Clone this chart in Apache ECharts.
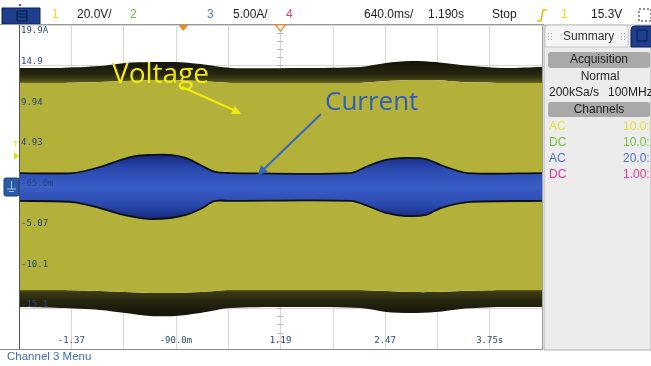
<!DOCTYPE html>
<html>
<head>
<meta charset="utf-8">
<script src="https://cdn.jsdelivr.net/npm/echarts@6/dist/echarts.min.js"></script>
<style>
  html, body { margin: 0; padding: 0; background: #fff; }
  #chart { width: 651px; height: 366px; }
</style>
</head>
<body>
<div id="chart"></div>
<script>
const voltsPerDiv = 20
const ampsPerDiv = 5
const ampsOffset = -0.065
const xMin = -2.01
const xMax = 4.39
const xStep = 0.64
const yMin = -4
const yMax = 4

const triggerTime = 0
const delayTime = 1.19
const triggerLevel = 15.3

const xTickLabels = ['', '-1.37', '', '-90.0m', '', '1.19', '', '2.47', '', '3.75s', '']
const yTickLabels = ['', '-15.1', '-10.1', '-5.07', '-65.0m', '4.93', '9.94', '14.9', '19.9A']

// channel 1 voltage envelope (V)
const vTime = [-2.01, -1.51, -1.02, -0.71, -0.40, -0.10, 0.21, 0.58, 1.44, 2.17, 2.48, 2.78, 3.09, 3.40, 3.89, 4.39]
const vOuterTop = [58.8, 58.8, 59.7, 61.2, 61.7, 61.7, 60.7, 58.8, 58.8, 59.3, 61.2, 62.2, 61.7, 60.2, 58.8, 59.3]
const vInnerTop = [51.4, 51.4, 51.9, 52.3, 52.8, 52.8, 52.3, 51.4, 51.4, 51.4, 52.3, 52.8, 52.8, 51.9, 51.4, 51.4]
const vInnerBottom = [-50.9, -50.9, -51.4, -51.9, -52.3, -52.3, -51.9, -50.9, -50.9, -50.9, -51.4, -51.9, -51.9, -51.4, -50.9, -50.9]
const vOuterBottom = [-59.3, -59.8, -60.7, -62.2, -63.7, -63.7, -62.2, -59.8, -59.3, -59.8, -61.7, -62.2, -61.7, -60.2, -59.3, -59.3]

// channel 3 current envelope (A)
const iTime = [-2.01, -1.35, -1.02, -0.77, -0.59, -0.40, -0.16, 0.03, 0.21, 0.39, 0.58, 2.05, 2.26, 2.48, 2.72, 2.97, 3.15, 3.48, 4.39]
const iUpper = [1.66, 1.66, 2.40, 3.27, 3.76, 3.89, 3.89, 3.52, 2.65, 1.79, 1.66, 1.66, 2.53, 3.27, 3.52, 3.39, 2.65, 1.66, 1.66]
const iLower = [-1.79, -1.92, -2.66, -3.40, -3.77, -4.02, -3.89, -3.52, -2.78, -1.79, -1.79, -1.79, -2.41, -3.27, -3.65, -3.52, -2.66, -1.92, -1.79]

const vDiv = (v) => v / voltsPerDiv
const iDiv = (a) => (a - ampsOffset) / ampsPerDiv

const chart = echarts.init(document.getElementById('chart'))

const labelColor = '#27477e'
const gridColor = '#d6d6d6'
const monoFont = 'DejaVu Sans Mono'
const uiFont = 'Liberation Sans'
const smooth = 0.3

const grad = (stops) => new echarts.graphic.LinearGradient(0, 0, 0, 1,
  stops.map(([offset, color]) => ({ offset, color })))

// envelope in screen points, through the axis scales; the ends are run out
// past the plot edge (clipped away) so smoothing doesn't round the corners
const edge = (api, xs, ys, conv) => {
  const pts = xs.map((x, i) => api.coord([x, conv(ys[i])]))
  const first = pts[0]
  const last = pts[pts.length - 1]
  return [[first[0] - 40, first[1]], ...pts, [last[0] + 40, last[1]]]
}
const bandShape = (api, xs, lo, hi, conv) => ({
  points: [...edge(api, xs, hi, conv), ...edge(api, xs, lo, conv).reverse()],
  smooth,
})

const voltageItem = (params, api) => ({
  type: 'group',
  children: [
    {
      type: 'polygon', shape: bandShape(api, vTime, vOuterBottom, vInnerBottom, vDiv),
      style: { fill: grad([[0, '#8a8828'], [0.12, '#3c3b16'], [0.5, '#23230e'], [1, '#151509']]) },
    },
    {
      type: 'polygon', shape: bandShape(api, vTime, vInnerTop, vOuterTop, vDiv),
      style: { fill: grad([[0, '#141408'], [0.55, '#26250f'], [0.85, '#4a4a1a'], [1, '#8e8c2c']]) },
    },
    {
      type: 'polygon', shape: bandShape(api, vTime, vInnerBottom, vInnerTop, vDiv),
      style: { fill: '#b3b13a' },
    },
  ],
})

const currentItem = (params, api) => ({
  type: 'group',
  children: [
    {
      type: 'polygon', shape: bandShape(api, iTime, iLower, iUpper, iDiv),
      style: { fill: grad([[0, '#16287a'], [0.22, '#2a49ae'], [0.5, '#3a5fc6'], [0.78, '#2a49ae'], [1, '#16287a']]) },
    },
    {
      type: 'polyline', shape: { points: edge(api, iTime, iUpper, iDiv), smooth },
      style: { fill: 'none', stroke: '#0c0f1e', lineWidth: 1.8 },
    },
    {
      type: 'polyline', shape: { points: edge(api, iTime, iLower, iDiv), smooth },
      style: { fill: 'none', stroke: '#0c0f1e', lineWidth: 1.8 },
    },
  ],
})

const option = {
  animation: false,
  backgroundColor: '#fff',
  grid: { left: 19, right: 109, top: 25, bottom: 17, show: false },
  xAxis: [
    {
      type: 'value', min: xMin, max: xMax, interval: xStep, z: 10,
      axisLine: { show: false }, axisTick: { show: false }, splitLine: { show: false },
      axisLabel: {
        inside: true, margin: 4, color: labelColor, fontFamily: monoFont, fontSize: 9,
        formatter: (v) => xTickLabels[Math.round((v - xMin) / xStep)] || '',
      },
    },
    {
      type: 'value', min: xMin, max: xMax, interval: xStep, z: 0,
      axisLine: { show: false }, axisTick: { show: false }, axisLabel: { show: false },
      splitLine: { lineStyle: { color: gridColor } },
    },
  ],
  yAxis: [
    {
      type: 'value', min: yMin, max: yMax, interval: 1, z: 10,
      axisLine: { show: false }, axisTick: { show: false }, splitLine: { show: false },
      axisLabel: {
        inside: true, margin: 2, color: labelColor, fontFamily: monoFont, fontSize: 9,
        formatter: (v) => {
          const idx = Math.round(v - yMin)
          const label = yTickLabels[idx] || ''
          if (!label) return ''
          return idx === yTickLabels.length - 1 ? `{top|${label}}` : `{mid|${label}}`
        },
        rich: {
          top: { padding: [12, 0, 0, 0], color: labelColor, fontFamily: monoFont, fontSize: 9 },
          mid: { padding: [0, 0, 7, 0], color: labelColor, fontFamily: monoFont, fontSize: 9 },
        },
      },
    },
    {
      type: 'value', min: yMin, max: yMax, interval: 1, z: 0,
      axisLine: { show: false }, axisTick: { show: false }, axisLabel: { show: false },
      splitLine: { lineStyle: { color: gridColor } },
    },
    // centre graticule ticks
    {
      type: 'value', min: yMin, max: yMax, interval: 1, z: 0, offset: -262,
      axisLine: { show: false }, axisLabel: { show: false }, splitLine: { show: false },
      axisTick: { show: true, inside: true, length: 3, lineStyle: { color: '#b8b8b8' } },
      minorTick: { show: true, splitNumber: 5, length: 3, lineStyle: { color: '#b8b8b8' } },
    },
    {
      type: 'value', min: yMin, max: yMax, interval: 1, z: 0, offset: -262,
      axisLine: { show: false }, axisLabel: { show: false }, splitLine: { show: false },
      axisTick: { show: true, inside: false, length: 3, lineStyle: { color: '#b8b8b8' } },
      minorTick: { show: true, splitNumber: 5, length: 3, lineStyle: { color: '#b8b8b8' } },
    },
  ],
  series: [
    {
      name: 'Voltage', type: 'custom', coordinateSystem: 'cartesian2d', xAxisIndex: 0, yAxisIndex: 0,
      clip: true, silent: true, z: 2, data: [[xMin, 0]], renderItem: voltageItem,
    },
    {
      name: 'Current', type: 'custom', coordinateSystem: 'cartesian2d', xAxisIndex: 0, yAxisIndex: 0,
      clip: true, silent: true, z: 3, data: [[xMin, 0]], renderItem: currentItem,
    },
  ],
}

chart.setOption(option)

const px = (t, d) => chart.convertToPixel({ xAxisIndex: 0, yAxisIndex: 0 }, [t, d])
const [trigX, plotTop] = px(triggerTime, yMax)
const [delayX] = px(delayTime, yMax)
const [, trigY] = px(xMin, triggerLevel / voltsPerDiv)
const [plotLeft, gndY] = px(xMin, iDiv(ampsOffset))
const [plotRight, plotBottom] = px(xMax, yMin)

const txt = (x, y, text, fill, extra = {}) => ({
  type: 'text', x, y, z: 100,
  style: { text, fill, font: `12px "${uiFont}"`, verticalAlign: 'middle', ...extra },
})
const dots = (x, y) => [0, 1, 2].flatMap((r) => [0, 1].map((c) => ({
  type: 'rect', z: 100, shape: { x: x + c * 3, y: y + r * 3, width: 1, height: 1 }, style: { fill: '#9a9a9a' },
})))

const graphics = [
  // header
  { type: 'rect', z: 90, shape: { x: 0, y: 0, width: 651, height: plotTop }, style: { fill: '#fff' } },
  { type: 'rect', z: 100, shape: { x: 2, y: 8, width: 38, height: 16 }, style: { fill: '#1e3f8e', stroke: '#0b1f55' } },
  { type: 'rect', z: 100, shape: { x: 17, y: 11, width: 10, height: 10 }, style: { fill: 'none', stroke: '#0b1a44' } },
  { type: 'line', z: 100, shape: { x1: 17, y1: 14, x2: 27, y2: 14 }, style: { stroke: '#0b1a44' } },
  { type: 'line', z: 100, shape: { x1: 17, y1: 17, x2: 27, y2: 17 }, style: { stroke: '#0b1a44' } },
  { type: 'rect', z: 100, shape: { x: 19, y: 4, width: 2, height: 2 }, style: { fill: '#e02020' } },
  txt(52, 15, '1', '#e8de1c'),
  txt(77, 15, '20.0V/', '#222'),
  txt(130, 15, '2', '#6cc040'),
  txt(207, 15, '3', '#5a78cc'),
  txt(233, 15, '5.00A/', '#222'),
  txt(286, 15, '4', '#e0407a'),
  txt(364, 15, '640.0ms/', '#222'),
  txt(428, 15, '1.190s', '#222'),
  txt(492, 15, 'Stop', '#222'),
  { type: 'polyline', z: 100, shape: { points: [[537, 21], [541, 21], [543, 10], [547, 10]] }, style: { stroke: '#f2b400', lineWidth: 1.5, fill: 'none' } },
  txt(561, 15, '1', '#e8de1c'),
  txt(591, 15, '15.3V', '#222'),
  { type: 'rect', z: 100, shape: { x: 639, y: 9, width: 12, height: 12 }, style: { fill: 'none', stroke: '#222', lineDash: [2, 2] } },
  { type: 'line', z: 100, shape: { x1: 0, y1: plotTop - 0.5, x2: 544, y2: plotTop - 0.5 }, style: { stroke: '#9a9a9a' } },
  // time reference markers
  { type: 'polygon', z: 100, shape: { points: [[trigX - 5, plotTop], [trigX + 5, plotTop], [trigX, plotTop + 6]] }, style: { fill: '#f08a1e' } },
  { type: 'polygon', z: 100, shape: { points: [[delayX - 5, plotTop], [delayX + 5, plotTop], [delayX, plotTop + 6]] }, style: { fill: '#fff', stroke: '#f08a1e', lineWidth: 1.2 } },
  // plot frame
  { type: 'line', z: 100, shape: { x1: plotLeft + 0.5, y1: plotTop, x2: plotLeft + 0.5, y2: plotBottom }, style: { stroke: '#555' } },
  { type: 'line', z: 100, shape: { x1: plotRight + 0.5, y1: plotTop, x2: plotRight + 0.5, y2: plotBottom }, style: { stroke: '#a0a0a0' } },
  { type: 'line', z: 100, shape: { x1: 0, y1: plotBottom + 0.5, x2: plotRight + 1, y2: plotBottom + 0.5 }, style: { stroke: '#8a8a8a', lineWidth: 1.2 } },
  // trigger level marker
  txt(13, trigY - 12, 'T', '#e8de1c', { font: `9px "${uiFont}"` }),
  { type: 'polygon', z: 100, shape: { points: [[14, trigY - 4], [19, trigY], [14, trigY + 4]] }, style: { fill: '#e8de1c' } },
  // channel 3 ground marker
  { type: 'rect', z: 100, shape: { x: 4, y: gndY - 9, width: 15, height: 18, r: 2 }, style: { fill: '#2b5aa6', stroke: '#1b3f80' } },
  { type: 'line', z: 101, shape: { x1: 11.5, y1: gndY - 6, x2: 11.5, y2: gndY + 2 }, style: { stroke: '#a8c0ea' } },
  { type: 'line', z: 101, shape: { x1: 7, y1: gndY + 2, x2: 16, y2: gndY + 2 }, style: { stroke: '#a8c0ea' } },
  { type: 'line', z: 101, shape: { x1: 9, y1: gndY + 4.5, x2: 14, y2: gndY + 4.5 }, style: { stroke: '#a8c0ea' } },
  // right summary panel
  { type: 'rect', z: 100, shape: { x: 544, y: plotTop, width: 107, height: plotBottom - plotTop + 1 }, style: { fill: '#ececec', stroke: '#b0b0b0' } },
  { type: 'rect', z: 100, shape: { x: 545, y: plotTop, width: 83, height: 22, r: [4, 4, 0, 0] }, style: { fill: '#f5f5f5', stroke: '#c4c4c4' } },
  ...dots(548, 33),
  ...dots(621, 33),
  txt(563, 37, 'Summary', '#333'),
  { type: 'rect', z: 100, shape: { x: 631, y: plotTop + 1, width: 22, height: 21, r: [4, 0, 0, 0] }, style: { fill: '#1e3f8e', stroke: '#0b1f55' } },
  { type: 'rect', z: 101, shape: { x: 637, y: 30, width: 10, height: 11 }, style: { fill: 'none', stroke: '#0b1a44' } },
  { type: 'rect', z: 100, shape: { x: 548, y: 52, width: 102, height: 16, r: 3 }, style: { fill: '#a9a9a9' } },
  txt(599, 60, 'Acquisition', '#222', { align: 'center' }),
  txt(600, 77, 'Normal', '#222', { align: 'center' }),
  txt(549, 93, '200kSa/s', '#222'),
  txt(608, 93, '100MHz', '#222'),
  { type: 'rect', z: 100, shape: { x: 548, y: 102, width: 102, height: 15, r: 3 }, style: { fill: '#a9a9a9' } },
  txt(599, 110, 'Channels', '#222', { align: 'center' }),
  txt(549, 127, 'AC', '#e6df3c'),
  txt(623, 127, '10.0:1', '#e6df3c'),
  txt(549, 143, 'DC', '#76c443'),
  txt(623, 143, '10.0:1', '#76c443'),
  txt(549, 159, 'AC', '#4f70cf'),
  txt(623, 159, '20.0:1', '#4f70cf'),
  txt(549, 175, 'DC', '#e0359a'),
  txt(623, 175, '1.00:1', '#e0359a'),
  // footer
  txt(7, 357, 'Channel 3 Menu', '#3b6ab4', { font: `11.5px "${uiFont}"` }),
  // annotations
  txt(112, 75, 'Voltage', '#f3ea0c', { font: `28px "Open Sans"` }),
  { type: 'line', z: 100, shape: { x1: 182, y1: 87, x2: 236, y2: 111 }, style: { stroke: '#f3ea0c', lineWidth: 2 } },
  { type: 'polygon', z: 100, shape: { points: [[241, 114], [231, 114], [235, 106]] }, style: { fill: '#f3ea0c' } },
  txt(325, 103, 'Current', '#2f5fb5', { font: `26px "Open Sans"` }),
  { type: 'line', z: 100, shape: { x1: 321, y1: 114, x2: 263, y2: 170 }, style: { stroke: '#3566c0', lineWidth: 2 } },
  { type: 'polygon', z: 100, shape: { points: [[258, 175], [261, 165], [268, 172]] }, style: { fill: '#3566c0' } },
]

chart.setOption({ graphic: graphics })
</script>
</body>
</html>
